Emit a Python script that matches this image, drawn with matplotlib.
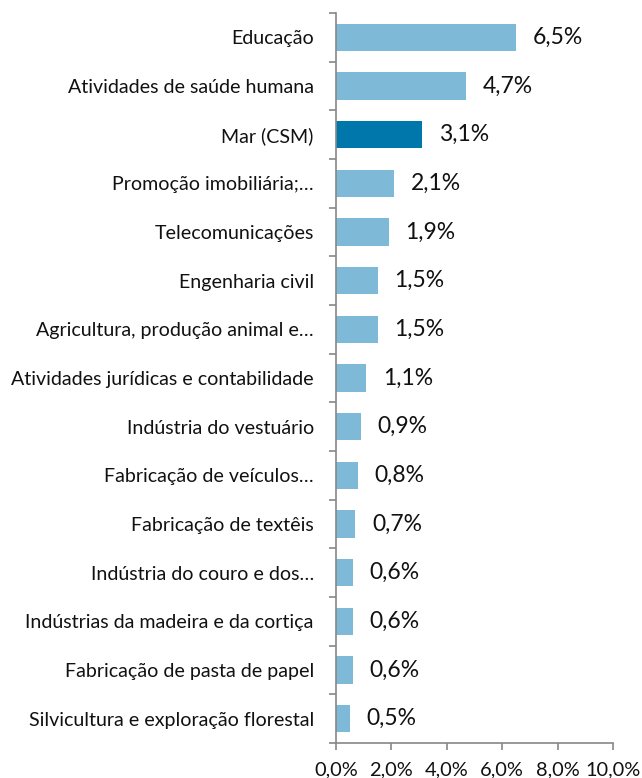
import matplotlib
matplotlib.use("Agg")
import matplotlib.pyplot as plt
from matplotlib.ticker import FixedLocator, FuncFormatter
import numpy as np

categories = [
    "Educação",
    "Atividades de saúde humana",
    "Mar (CSM)",
    "Promoção imobiliária;…",
    "Telecomunicações",
    "Engenharia civil",
    "Agricultura, produção animal e…",
    "Atividades jurídicas e contabilidade",
    "Indústria do vestuário",
    "Fabricação de veículos…",
    "Fabricação de textêis",
    "Indústria do couro e dos…",
    "Indústrias da madeira e da cortiça",
    "Fabricação de pasta de papel",
    "Silvicultura e exploração florestal",
]
values = [6.5, 4.7, 3.1, 2.1, 1.9, 1.5, 1.5, 1.1, 0.9, 0.8, 0.7, 0.6, 0.6, 0.6, 0.5]
highlight = "Mar (CSM)"
xticks = [0, 2, 4, 6, 8, 10]

plt.rcParams['font.family'] = ['Lato', 'DejaVu Sans']

fig = plt.figure(figsize=(6.42, 7.78), dpi=100)
ax = fig.add_axes([0.5234, 0.045, 0.4314, 0.9383])

n = len(categories)
y = np.arange(n)
colors = ["#0077AA" if c == highlight else "#7FB9D8" for c in categories]
ax.barh(y, values, height=0.56, color=colors, edgecolor="none")
ax.set_ylim(n - 0.5, -0.5)
ax.set_xlim(0, 10)

for yi, v in zip(y, values):
    ax.annotate(f"{v:.1f}%".replace(".", ","), xy=(v, yi), xytext=(12, 0),
                textcoords="offset points", va="center", ha="left",
                fontsize=16.5, color="#111111")

ax.set_yticks(y)
ax.set_yticklabels(categories, fontsize=14.1, color="#111111")
ax.tick_params(axis="y", length=0, pad=16)
ax.yaxis.set_minor_locator(FixedLocator(np.arange(-0.5, n, 1.0)))
ax.tick_params(axis="y", which="minor", length=5, color="#878787", width=1.2)

ax.set_xticks(xticks)
ax.xaxis.set_major_formatter(FuncFormatter(lambda v, p: f"{v:.1f}%".replace(".", ",")))
ax.tick_params(axis="x", length=5, color="#878787", width=1.2, labelsize=14.4, labelcolor="#111111", pad=8)

for s in ["top", "right"]:
    ax.spines[s].set_visible(False)
for s in ["left", "bottom"]:
    ax.spines[s].set_color("#878787")
    ax.spines[s].set_linewidth(1.2)

fig.savefig("out.png", dpi=100)
